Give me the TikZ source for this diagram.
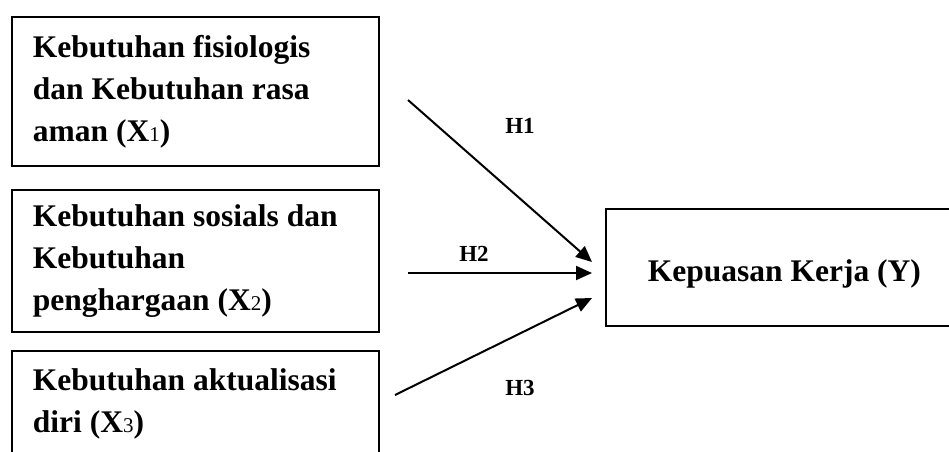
\documentclass[tikz,border=0pt]{standalone}
\usepackage{fontspec}
\setmainfont{Liberation Serif}
\usetikzlibrary{arrows.meta,calc}
\tikzset{
  varbox/.style={draw, line width=1.9pt, text width=325pt, inner xsep=21pt, inner ysep=0pt,
    align=flush left, anchor=north west, font=\bfseries\fontsize{31.5}{42}\selectfont},
  ybox/.style={draw, line width=1.9pt, text width=400pt, inner xsep=42pt, minimum height=117pt,
    align=flush left, anchor=west, text height=34pt, text depth=6pt, font=\bfseries\fontsize{31.5}{36}\selectfont},
  hyp/.style={font=\bfseries\fontsize{23}{23}\selectfont},
  link/.style={line width=2pt, -{Triangle[length=16pt,width=14pt]}}
}
\newcommand{\varidx}[1]{{\mdseries\fontsize{21}{21}\selectfont #1}}
\begin{document}
\begin{tikzpicture}[x=1pt, y=-1pt]
  \useasboundingbox (0,0) rectangle (949,451);
  \clip (0,0) rectangle (949,451);
  \node[varbox, minimum height=149pt] (x1) at (11,16) {Kebutuhan fisiologis\\dan Kebutuhan rasa\\aman (X\varidx{1})};
  \node[varbox, minimum height=142pt] (x2) at (11,189) {Kebutuhan sosials dan\\Kebutuhan\\penghargaan (X\varidx{2})};
  \node[varbox, minimum height=105pt] (x3) at (11,350) {Kebutuhan aktualisasi\\diri (X\varidx{3})};
  \node[ybox] (Y) at (605,267.5) {Kepuasan Kerja (Y)};
  \coordinate (s1) at (408,100);
  \coordinate (s2) at (408,273);
  \coordinate (s3) at (395,395);
  \foreach \s/\dy in {s1/-5.5, s2/5.5, s3/30.5} {
    \draw[link] (\s) -- ($(Y.west)+(-13,\dy)$);
  }
  \node[hyp] (h1) at (520,126) {H1};
  \node[hyp] (h2) at (474,254) {H2};
  \node[hyp] (h3) at (520,388) {H3};
\end{tikzpicture}
\end{document}
